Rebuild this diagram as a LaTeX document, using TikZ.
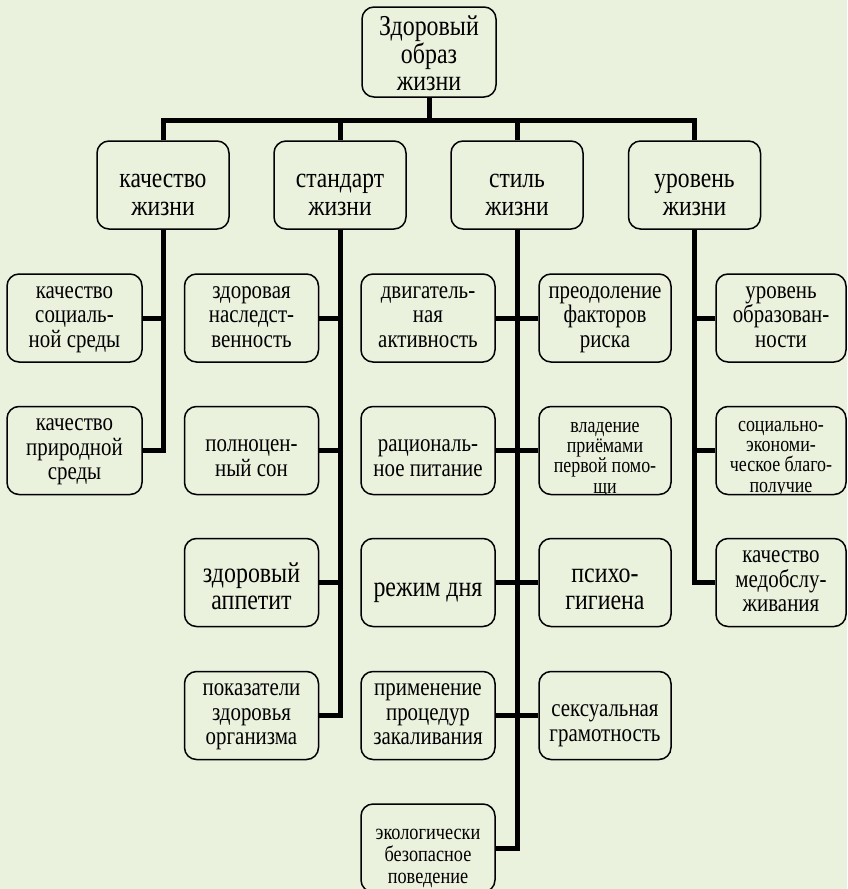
\documentclass[tikz,border=0pt]{standalone}
\usepackage{fontspec}
\setmainfont{Liberation Serif}[FakeStretch=0.83]
\usepackage{tikz}
\definecolor{bg}{HTML}{EAF1DD}

\begin{document}
\begin{tikzpicture}[x=1pt, y=-1pt,
             box/.style={draw, fill=bg, rounded corners=12pt, line width=1.5pt,
                         minimum width=134pt, minimum height=88pt, align=center, inner sep=0pt,
                         execute at end node={\rule[-6pt]{0pt}{6pt}}},
             head/.style={box, font=\fontsize{28.4}{27.2}\selectfont, execute at begin node={\rule{0pt}{66pt}}},
             leaf/.style={box, font=\fontsize{25.2}{24.5}\selectfont, execute at begin node={\rule{0pt}{64pt}}},
             twoleaf/.style={box, font=\fontsize{25.2}{24.5}\selectfont, execute at begin node={\rule{0pt}{57pt}}},
             bigleaf/.style={box, font=\fontsize{28.8}{27}\selectfont, execute at begin node={\rule{0pt}{#1}}},
             cliptxt/.style={align=center, inner sep=0pt, execute at begin node={\rule{0pt}{#1}},
                             execute at end node={\rule[-6pt]{0pt}{6pt}}},
             bus/.style={line width=5pt}]
             \fill[bg] (0,0) rectangle (847,889);
             \useasboundingbox (0,0) rectangle (847,889);

             \node[box, minimum height=90pt, font=\fontsize{28.8}{27.5}\selectfont,
                   execute at begin node={\rule{0pt}{83.4pt}}] (zoj) at (429,52) {Здоровый\\образ\\жизни};
             \coordinate (hub) at (429,120);

             \node[head, minimum width=132pt] (kach) at (163,185) {качество\\жизни};
             \node[head, minimum width=132pt] (stand) at (340,185) {стандарт\\жизни};
             \node[head, minimum width=132pt] (stil) at (517,185) {стиль\\жизни};
             \node[head, minimum width=132pt] (urov) at (694.5,185) {уровень\\жизни};

             \node[leaf, minimum width=135pt] (ksoc) at (74.5,318) {качество\\социаль-\\ной среды};
             \node[leaf, minimum width=135pt] (kpri) at (74.5,450.5) {качество\\природной\\среды};

             \node[leaf] (znas) at (251.5,318) {здоровая\\наследст-\\венность};
             \node[twoleaf] (pson) at (251.5,450.5) {полноцен-\\ный сон};
             \node[bigleaf=60pt] (zapp) at (251.5,582.5) {здоровый\\аппетит};
             \node[leaf] (pzdo) at (251.5,715.5) {показатели\\здоровья\\организма};

             \node[leaf] (dakt) at (428,318) {двигатель-\\ная\\активность};
             \node[twoleaf] (rpit) at (428,450.5) {рациональ-\\ное питание};
             \node[bigleaf=34pt] (rdnya) at (428,582.5) {режим дня};
             \node[leaf] (pzak) at (428,715.5) {применение\\процедур\\закаливания};
             \node[box, path picture={
                 \node[cliptxt=76pt, font=\fontsize{22}{21.8}\selectfont]
                     at (path picture bounding box.center) {экологически\\безопасное\\поведение};}] (ebez) at (428,848) {};

             \node[leaf, minimum width=132pt] (pfak) at (605,318) {преодоление\\факторов\\риска};
             \node[box, minimum width=132pt, path picture={
                 \node[cliptxt=91pt, font=\fontsize{21.6}{20.2}\selectfont]
                     at (path picture bounding box.center) {владение\\приёмами\\первой помо-\\щи};}] (vpom) at (605,450.5) {};
             \node[bigleaf=60pt, minimum width=132pt] (pgig) at (605,582.5) {психо-\\гигиена};
             \node[twoleaf, minimum width=132pt] (sgra) at (605,715.5) {сексуальная\\грамотность};

             \node[leaf, minimum width=130pt] (uobr) at (781,318) {уровень\\образован-\\ности};
             \node[box, minimum width=130pt, path picture={
                 \node[cliptxt=89pt, font=\fontsize{21.6}{20.2}\selectfont]
                     at (path picture bounding box.center) {социально-\\экономи-\\ческое благо-\\получие};}] (sebl) at (781,450.5) {};
             \node[leaf, minimum width=130pt] (kmed) at (781,582.5) {качество\\медобслу-\\живания};

             \draw[bus] (zoj.south) -- (hub);
             \foreach \n in {kach,stand,stil,urov}
                 \draw[bus] (\n.north) |- (hub);

             \draw[bus] (kach.south) |- (kpri.east);
             \draw[bus] (ksoc.east) -- (ksoc.east -| kach.south);

             \draw[bus] (stand.south) |- (pzdo.east);
             \foreach \n in {znas,pson,zapp}
                 \draw[bus] (\n.east) -- (\n.east -| stand.south);

             \draw[bus] (stil.south) |- (ebez.east);
             \foreach \n in {dakt,rpit,rdnya,pzak}
                 \draw[bus] (\n.east) -- (\n.east -| stil.south);
             \foreach \n in {pfak,vpom,pgig,sgra}
                 \draw[bus] (\n.west) -- (\n.west -| stil.south);

             \draw[bus] (urov.south) |- (kmed.west);
             \foreach \n in {uobr,sebl}
                 \draw[bus] (\n.west) -- (\n.west -| urov.south);
         \end{tikzpicture}
\end{document}
